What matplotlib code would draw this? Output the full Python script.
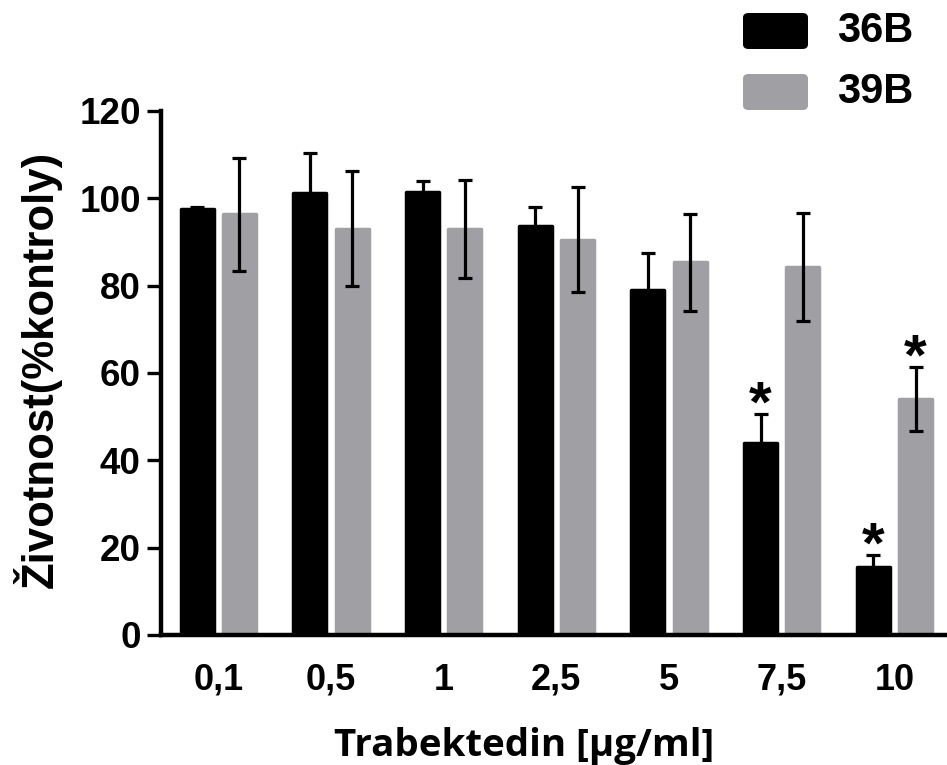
import numpy as np
import matplotlib
matplotlib.use('Agg')
import matplotlib.pyplot as plt
from matplotlib.patches import FancyBboxPatch

# data
doses = ['0,1', '0,5', '1', '2,5', '5', '7,5', '10']
v36 = [97.6, 101.2, 101.5, 93.7, 79.1, 44.0, 15.5]
e36 = [0.5, 9.2, 2.4, 4.2, 8.4, 6.7, 2.8]
v39 = [96.3, 93.0, 93.0, 90.5, 85.3, 84.3, 54.0]
e39 = [13.0, 13.2, 11.2, 12.0, 11.2, 12.4, 7.4]
sig36 = [0, 0, 0, 0, 0, 1, 1]
sig39 = [0, 0, 0, 0, 0, 0, 1]

black = '#000000'
grey = '#a0a0a4'

plt.rcParams['font.family'] = ['Liberation Sans', 'DejaVu Sans']
plt.rcParams['font.weight'] = 'bold'

fig = plt.figure(figsize=(9.47, 7.65), dpi=100)
ax = fig.add_axes([0.170, 0.170, 0.830, 0.685])

x = np.arange(len(doses))
off = 0.1876
w = 0.292

ax.bar(x - off, v36, w, color=black, edgecolor=black, linewidth=2.5, joinstyle='round', zorder=2)
ax.bar(x + off, v39, w, color=grey, edgecolor=grey, linewidth=2.5, joinstyle='round', zorder=2)
ax.errorbar(x - off, v36, yerr=e36, fmt='none', ecolor='black', elinewidth=2.3,
            capsize=4.7, capthick=2.3, zorder=3)
ax.errorbar(x + off, v39, yerr=e39, fmt='none', ecolor='black', elinewidth=2.3,
            capsize=4.7, capthick=2.3, zorder=3)

# significance stars
for xs, vals, errs, sig in [(x - off, v36, e36, sig36), (x + off, v39, e39, sig39)]:
    for xi, v, e, s in zip(xs, vals, errs, sig):
        if s:
            ax.annotate('*', (xi, v + e), xytext=(0, -5.5), textcoords='offset points',
                        ha='center', va='baseline', fontsize=42, fontweight='bold')

ax.set_xlim(-0.508, 6.466)
ax.set_ylim(0, 120)
ax.set_yticks([0, 20, 40, 60, 80, 100, 120])
ax.set_xticks(x)
ax.set_xticklabels(doses)
ax.tick_params(axis='y', length=10, width=2.4, pad=4.5, labelsize=26.5)
ax.tick_params(axis='x', length=0, pad=20, labelsize=26)
for sp in ['top', 'right']:
    ax.spines[sp].set_visible(False)
for sp in ['left', 'bottom']:
    ax.spines[sp].set_linewidth(3.2)

fig.text(37 / 947, 1 - 369 / 765, 'Životnost(%kontroly)', rotation=90,
         ha='center', va='center', fontsize=31.5, fontweight='bold')
fig.text(524 / 947, 9 / 765, 'Trabektedin [µg/ml]', ha='center', va='baseline',
         fontsize=27.7, fontweight='bold', family=['Open Sans', 'DejaVu Sans'])

# legend
W, H = 947, 765
for top, col, lab in [(13, black, '36B'), (74, grey, '39B')]:
    box = FancyBboxPatch((743 / W, 1 - (top + 36) / H), 65 / W, 36 / H,
                         boxstyle='round,pad=0,rounding_size=0.006',
                         transform=fig.transFigure, facecolor=col, edgecolor='none')
    fig.add_artist(box)
    fig.text(837 / W, 1 - (top + 18) / H, lab, ha='left', va='center',
             fontsize=30, fontweight='bold')

fig.savefig('out.png', dpi=100)
